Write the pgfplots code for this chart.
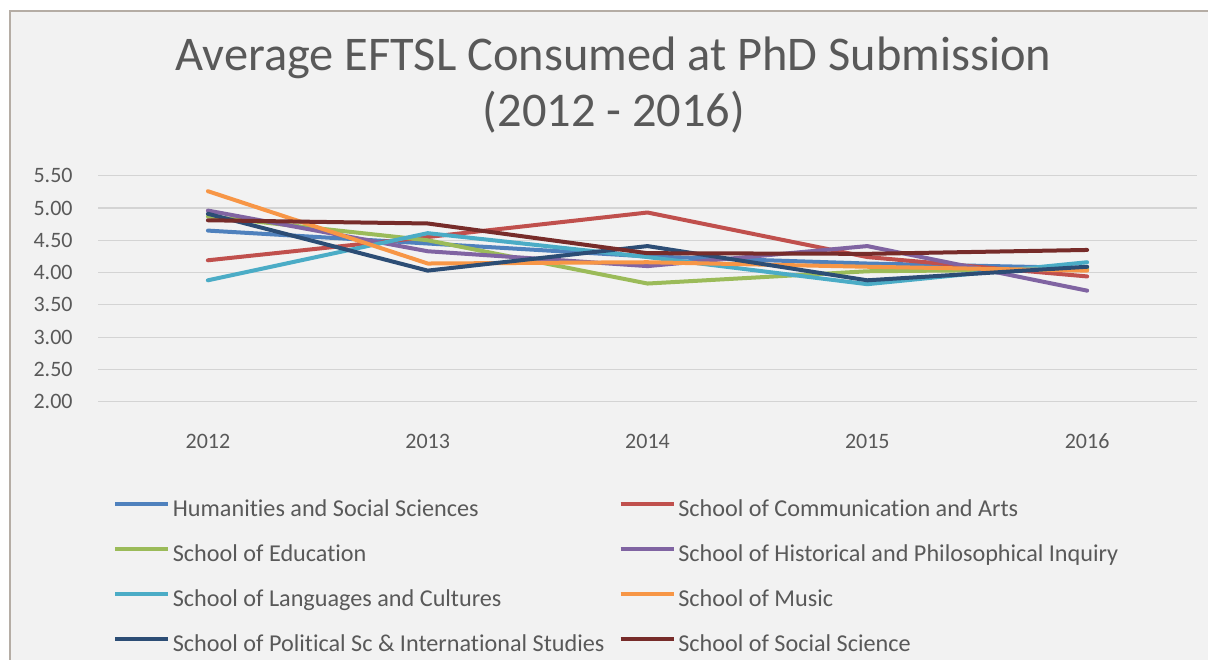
\documentclass[border=0pt]{standalone}
\usepackage{fontspec}
\setmainfont{Carlito}[Ligatures=NoCommon]
\usepackage{pgfplots}
\pgfplotsset{compat=1.18}
\usepackage{pgfplotstable}

\definecolor{chartbg}{HTML}{F2F2F2}
\definecolor{frame}{HTML}{B5ADA5}
\definecolor{txt}{HTML}{595959}
\definecolor{gridc}{HTML}{D4D4D4}
\definecolor{cHum}{HTML}{4F81BD}
\definecolor{cCom}{HTML}{C0504D}
\definecolor{cEdu}{HTML}{9BBB59}
\definecolor{cHis}{HTML}{8064A2}
\definecolor{cLan}{HTML}{4BACC6}
\definecolor{cMus}{HTML}{F79646}
\definecolor{cPol}{HTML}{2C4D75}
\definecolor{cSoc}{HTML}{772C2A}

% year index 0..4 = 2012..2016
\pgfplotstableread{
x  hum  com  edu  his  lan  mus  pol  soc
0  4.65 4.19 4.87 4.96 3.88 5.26 4.91 4.81
1  4.45 4.55 4.50 4.33 4.61 4.14 4.03 4.76
2  4.25 4.93 3.83 4.10 4.24 4.16 4.41 4.30
3  4.14 4.24 4.02 4.41 3.82 4.09 3.88 4.29
4  4.07 3.94 4.05 3.72 4.16 4.03 4.09 4.35
}\eftsl

\newcommand{\lw}[1]{\makebox[221.5bp][l]{#1}}

\begin{document}
\begin{tikzpicture}[x=0.5bp,y=-0.5bp]
\useasboundingbox (0,0) rectangle (1208,659);
\fill[white] (0,0) rectangle (1208,659);
\filldraw[fill=chartbg, draw=frame, line width=1bp] (10,11) rectangle (1230,680);

\node[anchor=base, text=txt, font=\fontsize{24.2bp}{28bp}\selectfont] at (613.5,71) {Average EFTSL Consumed at PhD Submission};
\node[anchor=base, text=txt, font=\fontsize{24.2bp}{28bp}\selectfont] at (614,126) {(2012 - 2016)};

\coordinate (axpos) at (98,401.7);
\begin{axis}[
    at={(axpos)}, anchor=south west,
    scale only axis, width=549.5bp, height=113bp,
    xmin=-0.5, xmax=4.5,
    ymin=2, ymax=5.5,
    xtick={0,1,2,3,4},
    xticklabels={2012,2013,2014,2015,2016},
    ytick={2,2.5,3,3.5,4,4.5,5,5.5},
    /pgf/number format/assume math mode=true,
    yticklabel={\pgfmathprintnumber[fixed,fixed zerofill,precision=2]{\tick}},
    ticklabel style={font=\fontsize{11bp}{13bp}\selectfont, text=txt, inner sep=0pt},
    yticklabel style={anchor=east, xshift=-12.5bp},
    xticklabel style={anchor=north, yshift=-16bp},
    axis line style={draw=none},
    major tick length=0pt,
    ymajorgrids=true,
    grid style={gridc, line width=0.6bp},
    every axis plot/.append style={line width=2bp, line join=round, line cap=round},
    legend columns=2,
    legend cell align=left,
    legend image code/.code={\draw[#1, line cap=butt, line width=1.7bp] (0bp,3.8bp) -- (26.5bp,3.8bp);},
    legend style={
        at={(axis description cs:0.0137,-0.422)}, anchor=north west,
        draw=none, fill=none, inner sep=0pt,
        column sep=0pt, row sep=8.5bp,
        font=\fontsize{12.1bp}{14bp}\selectfont, text=txt,
        nodes={inner sep=1.5bp, text height=8bp, text depth=3bp},
    },
]
\addplot[cHum] table[x=x, y=hum] {\eftsl};
\addlegendentry{\lw{Humanities and Social Sciences}}
\addplot[cCom] table[x=x, y=com] {\eftsl};
\addlegendentry{School of Communication and Arts}
\addplot[cEdu] table[x=x, y=edu] {\eftsl};
\addlegendentry{\lw{School of Education}}
\addplot[cHis] table[x=x, y=his] {\eftsl};
\addlegendentry{School of Historical and Philosophical Inquiry}
\addplot[cLan] table[x=x, y=lan] {\eftsl};
\addlegendentry{\lw{School of Languages and Cultures}}
\addplot[cMus] table[x=x, y=mus] {\eftsl};
\addlegendentry{School of Music}
\addplot[cPol] table[x=x, y=pol] {\eftsl};
\addlegendentry{\lw{School of Political Sc \& International Studies}}
\addplot[cSoc] table[x=x, y=soc] {\eftsl};
\addlegendentry{School of Social Science}
\end{axis}
\end{tikzpicture}
\end{document}
